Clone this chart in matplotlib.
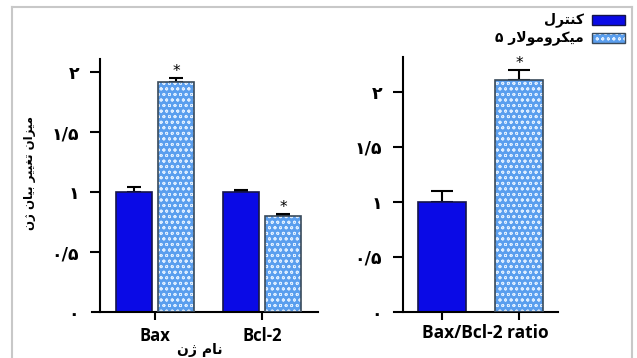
import numpy as np
import matplotlib.pyplot as plt
from matplotlib.lines import Line2D
from matplotlib.patches import Rectangle

# ---- data ----
genes = ['Bax', 'Bcl-2']
control = [1.0, 1.0]
control_err = [0.045, 0.02]
treated = [1.92, 0.80]
treated_err = [0.035, 0.02]
treated_star = [True, True]

ratio_label = 'Bax/Bcl-2 ratio'
ratio_vals = [1.0, 2.11]
ratio_err = [0.10, 0.09]

left_ticks = [0, 0.5, 1, 1.5, 2]
right_ticks = [0, 0.5, 1, 1.5, 2]
fa_ticks = ['\u06f0', '\u06f0/\u06f5', '\u06f1', '\u06f1/\u06f5', '\u06f2']

# ---- tiny persian shaper (matplotlib has no complex text layout) ----
FORMS = {
    'ا': ('\uFE8D', '\uFE8E', None, None),
    'ب': ('\uFE8F', '\uFE90', '\uFE91', '\uFE92'),
    'ت': ('\uFE95', '\uFE96', '\uFE97', '\uFE98'),
    'ر': ('\uFEAD', '\uFEAE', None, None),
    'ز': ('\uFEAF', '\uFEB0', None, None),
    'ژ': ('\uFB8A', '\uFB8B', None, None),
    'غ': ('\uFECD', '\uFECE', '\uFECF', '\uFED0'),
    'ک': ('\uFB8E', '\uFB8F', '\uFB90', '\uFB91'),
    'ل': ('\uFEDD', '\uFEDE', '\uFEDF', '\uFEE0'),
    'م': ('\uFEE1', '\uFEE2', '\uFEE3', '\uFEE4'),
    'ن': ('\uFEE5', '\uFEE6', '\uFEE7', '\uFEE8'),
    'و': ('\uFEED', '\uFEEE', None, None),
    'ی': ('\uFBFC', '\uFBFD', '\uFBFE', '\uFBFF'),
    'LA': ('\uFEFB', '\uFEFC', None, None),
}


def shape(text):
    chars = []
    i = 0
    while i < len(text):
        if text[i] == 'ل' and i + 1 < len(text) and text[i + 1] == 'ا':
            chars.append('LA')
            i += 2
        else:
            chars.append(text[i])
            i += 1
    out = []
    for k, c in enumerate(chars):
        if c not in FORMS:
            out.append(c)
            continue
        prev = chars[k - 1] if k > 0 else None
        nxt = chars[k + 1] if k + 1 < len(chars) else None
        jp = prev in FORMS and FORMS[prev][2] is not None
        jn = nxt in FORMS and FORMS[c][2] is not None
        iso, fin, ini, med = FORMS[c]
        if jp and jn:
            out.append(med)
        elif jp:
            out.append(fin)
        elif jn:
            out.append(ini)
        else:
            out.append(iso)
    return ''.join(out)[::-1]


fa = ['DejaVu Sans']
lat = ['Open Sans', 'DejaVu Sans']

blue = '#0a0ae6'
blue_edge = '#15154a'
light = '#5a9eee'
light_edge = '#3a4a5a'
plt.rcParams['hatch.linewidth'] = 0.6

fig = plt.figure(figsize=(6.37, 3.58), dpi=100)


def hatched_bar(ax, x, h, w):
    ax.bar(x, h, w, color=light, edgecolor='#dfeeff', linewidth=0, hatch='ooo', zorder=2)
    ax.bar(x, h, w, color='none', edgecolor=light_edge, linewidth=1.2, zorder=3)


def style(ax, ticks):
    for s in ['top', 'right']:
        ax.spines[s].set_visible(False)
    ax.spines['left'].set_linewidth(1.5)
    ax.spines['bottom'].set_linewidth(1.5)
    ax.set_yticks(ticks)
    ax.set_yticklabels(fa_ticks, family=fa, fontsize=12.5, fontweight='bold')
    ax.tick_params(axis='y', length=7, width=1.5, pad=8)
    ax.tick_params(axis='x', length=6, width=1.5, pad=5)
    ax.yaxis.get_major_ticks()[0].tick1line.set_visible(False)


# ---- left panel ----
ax1 = fig.add_axes([0.1444, 0.1285, 0.3548, 0.7067])
x = np.arange(len(genes))
w = 0.336
ax1.bar(x - 0.2, control, w, color=blue, edgecolor=blue_edge, linewidth=1.2, zorder=2)
ax1.errorbar(x - 0.2, control, yerr=[np.zeros(2), control_err], fmt='none',
             ecolor='black', elinewidth=1.5, capsize=5, capthick=1.5, zorder=1)
for xi, h in zip(x + 0.2, treated):
    hatched_bar(ax1, xi, h, w)
ax1.errorbar(x + 0.2, treated, yerr=[np.zeros(2), treated_err], fmt='none',
             ecolor='black', elinewidth=1.5, capsize=5, capthick=1.5, zorder=1)
for xi, h, e, s in zip(x + 0.2, treated, treated_err, treated_star):
    if s:
        ax1.annotate('*', (xi, h + e), xytext=(0, -1), textcoords='offset points',
                     ha='center', va='bottom', fontsize=11)
ax1.set_xlim(-0.589, 1.523)
ax1.set_ylim(0, 2.11)
ax1.spines['left'].set_position(('axes', 0.0354))
ax1.set_xticks(x)
ax1.set_xticklabels(genes, family=lat, fontsize=12, fontweight='bold')
style(ax1, left_ticks)

# ---- right panel ----
ax2 = fig.add_axes([0.6185, 0.1293, 0.2575, 0.7115])
ax2.bar(0, ratio_vals[0], 0.62, color=blue, edgecolor=blue_edge, linewidth=1.2, zorder=2)
hatched_bar(ax2, 1, ratio_vals[1], 0.62)
ax2.errorbar([0, 1], ratio_vals, yerr=[np.zeros(2), ratio_err], fmt='none',
             ecolor='black', elinewidth=1.5, capsize=8, capthick=1.5, zorder=1)
ax2.annotate('*', (1, ratio_vals[1] + ratio_err[1]), xytext=(0, -1),
             textcoords='offset points', ha='center', va='bottom', fontsize=11)
ax2.set_xlim(-0.623, 1.506)
ax2.set_ylim(0, 2.315)
ax2.spines['left'].set_position(('axes', 0.0549))
ax2.set_xticks([0, 1])
ax2.set_xticklabels(['', ''])
style(ax2, right_ticks)
ax2.text(0.555, -0.085, ratio_label, transform=ax2.transAxes, ha='center',
         va='center', family=lat, fontsize=12.5, fontweight='bold')

# ---- axis titles ----
fig.text(29 / 637, 1 - 173 / 358, shape('میزان تغییر بیان ژن'), rotation=90,
         ha='center', va='center', family=fa, fontsize=8.5, fontweight='bold')
fig.text(200 / 637, 1 - 350 / 358, shape('نام ژن'), ha='center', va='center',
         family=fa, fontsize=10, fontweight='bold')

# ---- legend ----
fig.add_artist(Rectangle((592 / 637, 1 - 25 / 358), 33 / 637, 10 / 358,
                         transform=fig.transFigure, facecolor=blue, edgecolor=blue_edge, lw=1))
fig.add_artist(Rectangle((592 / 637, 1 - 43 / 358), 33 / 637, 10 / 358,
                         transform=fig.transFigure, facecolor=light, edgecolor='#dfeeff',
                         lw=0, hatch='ooo'))
fig.add_artist(Rectangle((592 / 637, 1 - 43 / 358), 33 / 637, 10 / 358,
                         transform=fig.transFigure, facecolor='none', edgecolor=light_edge, lw=1))
fig.text(584 / 637, 1 - 20 / 358, shape('کنترل'), ha='right', va='center', family=fa,
         fontsize=10, fontweight='bold')
fig.text(584 / 637, 1 - 38 / 358, '\u06f5 ' + shape('میکرومولار'), ha='right', va='center',
         family=fa, fontsize=10, fontweight='bold')

# ---- outer frame ----
frame = dict(color='#c8c8c8', lw=1.5, transform=fig.transFigure)
fig.add_artist(Line2D([12 / 637, 12 / 637], [0, 1 - 7 / 358], **frame))
fig.add_artist(Line2D([12 / 637, 632 / 637], [1 - 7 / 358, 1 - 7 / 358], **frame))
fig.add_artist(Line2D([632 / 637, 632 / 637], [0, 1 - 7 / 358], **frame))

fig.savefig('out.png', dpi=100)
